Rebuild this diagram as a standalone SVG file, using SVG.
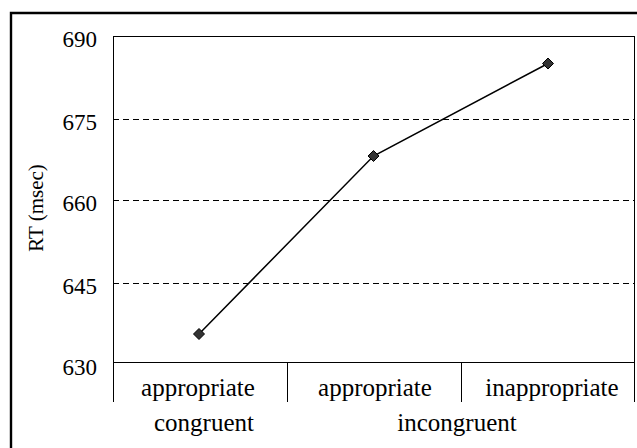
<svg xmlns="http://www.w3.org/2000/svg" width="637" height="448" viewBox="0 0 637 448">
<style>
text{font-family:"Liberation Serif","Times New Roman",serif;fill:#000}
.tick{font-size:23px;text-anchor:end}
.cat{font-size:25px;text-anchor:middle}
.grid{stroke:#000;stroke-width:1;stroke-dasharray:6,4;fill:none;shape-rendering:crispEdges}
.axis{stroke:#000;stroke-width:1.2;fill:none;shape-rendering:crispEdges}
.pt{fill:#333;stroke:#000;stroke-width:1}
</style>
<defs>
<path id="dia" d="M0,-5.5 L5.5,0 L0,5.5 L-5.5,0 Z"/>
</defs>
<rect width="637" height="448" fill="#fff"/>
<path d="M11,460 L11,13 L650,13" fill="none" stroke="#000" stroke-width="2.4"/>
<g id="grid">
<line class="grid" x1="113" y1="119.5" x2="635" y2="119.5"/>
<line class="grid" x1="113" y1="200.5" x2="635" y2="200.5"/>
<line class="grid" x1="113" y1="283.5" x2="635" y2="283.5"/>
</g>
<g id="axes">
<rect class="axis" x="113.5" y="36.5" width="521" height="326"/>
<line class="axis" x1="113.5" y1="362" x2="113.5" y2="402"/>
<line class="axis" x1="287.5" y1="362" x2="287.5" y2="402"/>
<line class="axis" x1="461.5" y1="362" x2="461.5" y2="402"/>
<line class="axis" x1="634.5" y1="362" x2="634.5" y2="402"/>
</g>
<g id="ticks">
<text class="tick" x="97" y="47">690</text>
<text class="tick" x="97" y="130">675</text>
<text class="tick" x="97" y="211">660</text>
<text class="tick" x="97" y="294">645</text>
<text class="tick" x="97" y="375">630</text>
</g>
<text x="43" y="208" font-size="21" text-anchor="middle" transform="rotate(-90 43 208)">RT (msec)</text>
<g id="connectors">
<polyline points="199,334 373.5,156 548,63.5" fill="none" stroke="#000" stroke-width="1.5"/>
</g>
<g id="point-congruent-appropriate"><use href="#dia" class="pt" x="199" y="334"/></g>
<g id="point-incongruent-appropriate"><use href="#dia" class="pt" x="373.5" y="156"/></g>
<g id="point-incongruent-inappropriate"><use href="#dia" class="pt" x="548" y="63.5"/></g>
<g id="categories">
<text class="cat" x="198" y="396">appropriate</text>
<text class="cat" x="375" y="396">appropriate</text>
<text class="cat" x="552" y="396">inappropriate</text>
<text class="cat" x="204" y="431">congruent</text>
<text class="cat" x="457" y="431">incongruent</text>
</g>
</svg>
